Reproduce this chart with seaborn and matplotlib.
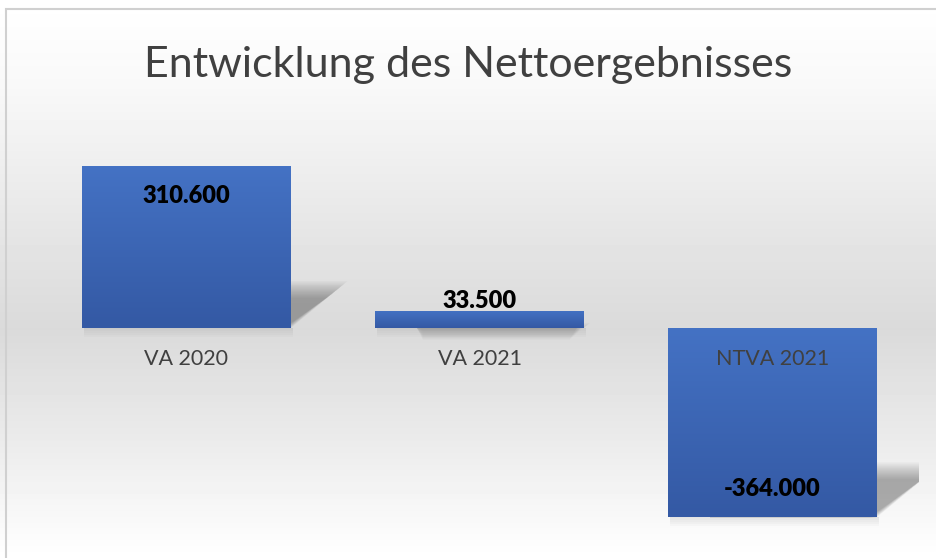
import numpy as np
import matplotlib
matplotlib.use("Agg")
import matplotlib.pyplot as plt
import seaborn as sns
from matplotlib.patches import Polygon, Rectangle
from matplotlib.colors import LinearSegmentedColormap

# data
categories = ["VA 2020", "VA 2021", "NTVA 2021"]
values = [310600, 33500, -364000]
title = "Entwicklung des Nettoergebnisses"

sns.set_theme(style="white")
plt.rcParams["font.family"] = ["Lato", "DejaVu Sans"]

W, H = 936, 558
fig = plt.figure(figsize=(W / 100, H / 100), dpi=100)

# soft grey background gradient (white top / bottom, grey middle)
bg = fig.add_axes([0, 0, 1, 1], zorder=0)
stops_y = [0, 0.15, 0.40, 0.59, 0.80, 1.0]
stops_v = [1.0, 0.975, 0.905, 0.855, 0.925, 1.0]
rows = np.interp(np.linspace(0, 1, H), stops_y, stops_v)
bg.imshow(np.repeat(rows[:, None], 2, axis=1), cmap="gray", vmin=0, vmax=1,
          aspect="auto", extent=[0, 1, 0, 1], origin="upper")
bg.axis("off")

# main plot
ax = fig.add_axes([40 / W, 28 / H, 879 / W, 380 / H], zorder=1)
ax.patch.set_alpha(0)
sns.barplot(x=categories, y=values, ax=ax, width=0.713, color="#4472c4",
            saturation=1, linewidth=0, zorder=3)
ax.set_xlim(-0.5, 2.5)
ax.set_ylim(-388500, 342300)

# pixel -> data scales
px_x = (2.5 - (-0.5)) / (879)
px_y = (342300 + 388500) / 380

grad = LinearSegmentedColormap.from_list("bar", ["#3459a4", "#4472c4"])
for p in list(ax.patches):
    x0, y0, w, h = p.get_x(), p.get_y(), p.get_width(), p.get_height()
    lo, hi = min(y0, y0 + h), max(y0, y0 + h)
    im = ax.imshow(np.linspace(0, 1, 100)[:, None], cmap=grad, aspect="auto",
                   extent=[x0, x0 + w, lo, hi], origin="lower", zorder=3.5)
    im.set_clip_path(p)

    # perspective shadow at the lower edge (layered for a soft edge)
    hpx = (hi - lo) / px_y
    sh = 0.29 * hpx
    dx = 0.35 * hpx
    n = 14
    for k in range(n):
        s = k / n
        pts = [(x0 + w * 0.2, lo),
               (x0 + w - s * 8 * px_x, lo),
               (x0 + w + (dx - s * 22) * px_x, lo + (sh - s * 18) * px_y),
               (x0 + w * 0.2 + dx * px_x, lo + (sh - s * 18) * px_y)]
        ax.add_patch(Polygon(pts, closed=True, facecolor="#404040",
                             edgecolor="none", alpha=0.035, zorder=2))
    # soft shadow below bar
    for k in range(5):
        ax.add_patch(Rectangle((x0 + 2 * px_x, lo - (1 + k * 2) * px_y),
                               w, (1 + k * 2) * px_y, facecolor="#808080",
                               edgecolor="none", alpha=0.035, zorder=2))

ax.set_xlim(-0.5, 2.5)
ax.set_ylim(-388500, 342300)
ax.axis("off")

# labels
for i, (cat, v) in enumerate(zip(categories, values)):
    ax.annotate(cat, (i, 0), xytext=(0, -22), textcoords="offset points",
                ha="center", va="center", fontsize=15.5, color="#404040", zorder=5)
    txt = f"{v:,.0f}".replace(",", ".")
    if abs(v) > 100000:
        off = -21 if v > 0 else 20
    else:
        off = 7
    ax.annotate(txt, (i, v), xytext=(0, off), textcoords="offset points",
                ha="center", va="center", fontsize=17, fontweight="heavy",
                color="black", zorder=5)

fig.text(0.5, 1 - 77 / H, title, ha="center", va="baseline",
         fontsize=31, color="#404040")

# chart border
fig.add_artist(Rectangle((6 / W, -0.1), 1.0, 1.1 - 9 / H,
                         transform=fig.transFigure, fill=False,
                         edgecolor="#d0d0d0", linewidth=1.5, clip_on=False))

fig.savefig("out.png", dpi=100)
